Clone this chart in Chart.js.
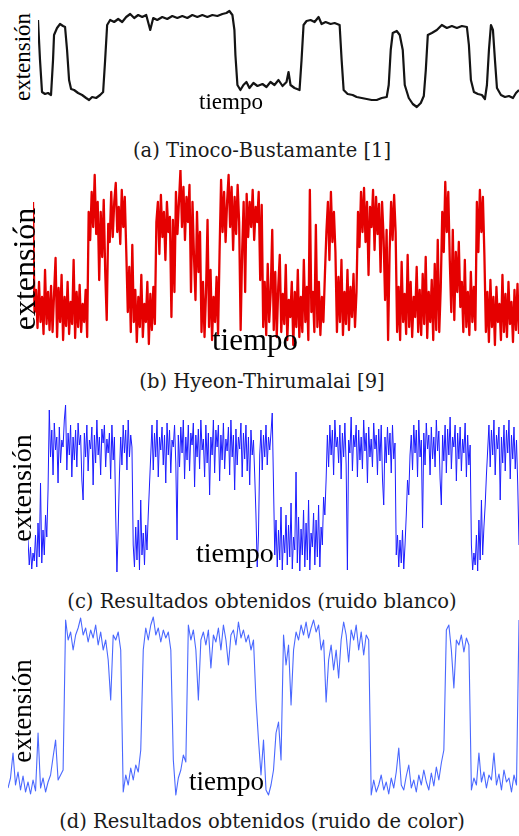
<!DOCTYPE html>
<html>
<head>
<meta charset="utf-8">
<script src="https://cdn.jsdelivr.net/npm/chart.js@4/dist/chart.umd.min.js"></script>
<style>
	html, body { margin: 0; padding: 0; background: #fff; }
	body { width: 519px; height: 836px; position: relative; overflow: hidden; }
	.panel { position: absolute; }
	.lbl { position: absolute; font-family: "Liberation Serif", "Times New Roman", serif; color: #000; line-height: 1; white-space: nowrap; }
	.ylbl { transform: translate(-50%, -50%) rotate(-90deg); }
	.cap { position: absolute; left: 0; width: 524px; text-align: center; font-family: "DejaVu Serif", serif; font-size: 19.5px; line-height: 1; color: #1a1a1a; white-space: nowrap; }
</style>
</head>
<body>
<div class="panel" style="left:38px;top:8px"><canvas id="chartA" width="481" height="102"></canvas></div>
<div class="panel" style="left:33px;top:170px"><canvas id="chartB" width="486" height="182"></canvas></div>
<div class="panel" style="left:28px;top:405px"><canvas id="chartC" width="491" height="170"></canvas></div>
<div class="panel" style="left:8px;top:615px"><canvas id="chartD" width="511" height="185"></canvas></div>

<div class="lbl ylbl" style="left:22px;top:57px;font-size:23px">extensión</div>
<div class="lbl" style="left:199px;top:90px;font-size:23px">tiempo</div>
<div class="cap" style="top:141px">(a) Tinoco-Bustamante [1]</div>

<div class="lbl ylbl" style="left:24px;top:269px;font-size:32px">extensión</div>
<div class="lbl" style="left:212px;top:324px;font-size:31px">tiempo</div>
<div class="cap" style="top:372px">(b) Hyeon-Thirumalai [9]</div>

<div class="lbl ylbl" style="left:22px;top:488px;font-size:28px">extensión</div>
<div class="lbl" style="left:196px;top:539px;font-size:28px">tiempo</div>
<div class="cap" style="top:592px">(c) Resultados obtenidos (ruido blanco)</div>

<div class="lbl ylbl" style="left:22px;top:711px;font-size:27px">extensión</div>
<div class="lbl" style="left:189px;top:768px;font-size:27px">tiempo</div>
<div class="cap" style="top:812px">(d) Resultados obtenidos (ruido de color)</div>

<script>
// (a) Tinoco-Bustamante: irregular time samples
const aTime = [0, 2, 4, 7, 10, 13, 15, 16, 19, 22, 25, 27, 29, 31, 33, 36, 40, 44, 48, 51, 54, 58, 62, 65, 67, 69,
	72, 76, 80, 84, 88, 92, 96, 100, 104, 108, 112, 115, 119, 124, 129, 134, 139, 144, 149, 154, 159, 164, 169, 174,
	179, 184, 188, 191, 194, 196, 197, 199, 202, 205, 208, 211, 215, 219, 224, 228, 232, 236, 240, 244, 248, 250, 252,
	256, 261, 263, 265, 268, 272, 276, 280, 283, 287, 292, 296, 301, 303, 305, 309, 314, 318, 323, 328, 333, 338, 343,
	348, 350, 352, 354, 358, 361, 364, 366, 370, 374, 378, 382, 385, 387, 389, 393, 398, 403, 408, 413, 418, 423, 428,
	430, 432, 435, 439, 443, 446, 448, 450, 452, 454, 456, 458, 462, 466, 470, 474, 477, 480];
const aExt = [86, 46, 14, 12, 13, 11, 46, 71, 78, 82, 80, 79, 56, 26, 17, 16, 13, 11, 8, 6, 9, 8, 11, 14, 46, 81,
	86, 84, 87, 84, 89, 92, 88, 91, 89, 91, 76, 88, 86, 89, 87, 90, 88, 90, 88, 91, 89, 91, 89, 91,
	90, 92, 93, 95, 91, 76, 51, 21, 16, 21, 24, 18, 23, 20, 22, 19, 24, 21, 26, 20, 24, 34, 21,
	18, 16, 46, 81, 85, 86, 84, 89, 82, 84, 82, 83, 81, 46, 16, 12, 11, 9, 8, 7, 6, 6, 8,
	9, 21, 56, 73, 75, 71, 56, 21, 8, 2, -1, 3, 10, 36, 71, 73, 76, 81, 78, 80, 78, 80, 79,
	61, 26, 14, 12, 11, 7, 21, 56, 81, 76, 46, 18, 11, 9, 10, 8, 13, 16];

// (b) Hyeon-Thirumalai: equally spaced samples
const bExt = [150, 40,
	62, 24, 70, 30, 55, 18, 82, 28, 60, 22, 66,
	20, 58, 94, 15, 64, 30, 77, 12, 55, 26, 70,
	18, 50, 28, 92, 14, 60, 25, 67, 20, 48, 30, 62, 15,
	140, 112, 160, 125, 177, 118, 150, 72,
	140, 95, 152, 80, 32, 128, 110,
	160, 115, 150, 169, 120, 145, 108, 162, 125, 155,
	100, 40, 85, 20, 107, 30,
	62, 10, 55, 25, 77, 15, 48, 30, 70, 8, 58, 22, 65, 28,
	130, 150, 98, 157, 115, 140, 92, 150, 120, 135,
	35, 132, 60,
	160, 118, 150, 182, 125, 165, 112, 155, 130, 167,
	60, 150, 95, 52, 140, 80, 120,
	20, 70, 15, 60, 132, 25, 82, 12, 55, 30, 75, 18,
	100, 172, 120,
	160, 110, 150, 177, 125, 165, 102, 155, 118, 167, 130,
	22, 100, 150, 60,
	158, 115, 150, 125, 162, 112, 145, 130, 160,
	72, 147,
	25, 70, 17, 88, 30, 60, 122, 22, 80,
	15, 65, 97, 20, 58, 28, 87, 12, 52, 35,
	70, 7, 60, 25, 82, 15,
	55, 20, 92, 30, 65, 12, 162, 40,
	60, 20, 127, 25, 70, 17, 55, 30, 77,
	120, 150, 92, 160, 110, 140, 100,
	20, 75, 30, 92, 17, 60, 28, 82, 22, 65, 35, 78, 25, 60,
	140, 105, 160, 120, 164, 110, 150, 77, 145, 125, 162, 102, 155, 118, 148, 80, 150, 115,
	52, 122, 12, 100,
	150, 112, 157, 120,
	20, 65, 12, 90, 30, 58, 18, 97, 25, 70, 15, 55, 35, 85, 20, 62, 17, 78, 28, 95, 14, 60, 30, 72, 12, 88, 22, 112, 20, 65,
	140, 100, 170, 120, 160, 92,
	40, 122, 32, 100, 60, 110, 45,
	70, 20, 92, 25, 60, 17, 80, 30, 65, 22,
	150, 100, 162, 120, 155, 97,
	20, 60, 10, 72, 25, 55, 7, 65, 30, 48, 12, 77, 20, 58, 15, 70, 28, 50, 10, 62, 22, 68, 18];

// (c) white noise result
const cExt = [35, 10, 28, 6, 22, 14,
	40, 8, 52, 18, 92, 12, 45, 20,
	60, 38, 85, 165,
	118, 145, 100, 152, 125, 138, 92, 148, 112, 135, 128, 155, 170, 105, 142, 120, 150, 98, 138, 115, 145, 108,
	152, 130, 140, 95, 75, 142, 118, 150, 104, 135, 126, 148, 90, 140, 112, 155, 120, 138, 100, 146, 132, 150,
	108, 136, 122, 142, 96, 150, 115, 138,
	60, 3,
	45, 100, 138, 110, 150, 122, 145, 105, 155, 118, 140, 128,
	30, 8, 48, 15, 55, 5, 75, 20, 42, 10, 50, 25,
	60, 90, 120,
	150, 105, 142, 118, 155, 98, 138, 125, 148, 110, 140, 92, 152, 120, 145, 102, 135, 128, 150, 112, 35, 140,
	108, 148, 122, 155, 96, 138, 115, 150, 104, 142, 130, 152, 88, 140, 118, 146, 106, 155, 125, 136, 98, 150,
	112, 142, 80, 138, 120, 155, 102, 145, 128, 150, 94, 140, 115, 152, 106, 136, 124, 148, 100, 155, 118, 140,
	85, 146, 110, 138, 126, 152, 98, 142, 116, 150, 104, 138, 90, 145, 120, 135, 100,
	60, 8, 40,
	120, 145, 105, 140, 118, 150, 110, 138, 125, 142, 162,
	90, 20, 55, 8, 45, 15, 68, 5, 40, 22, 60, 10, 50, 18, 72, 6, 38, 25, 103, 12, 58, 4, 46, 20, 65, 8, 52, 15,
	75, 5, 42, 28, 62, 10, 55, 18, 70, 8, 48, 30,
	78, 60, 95,
	140, 108, 150, 120, 145, 100, 155, 128, 138, 112, 150, 96, 142, 118, 152, 110, 5, 135, 122, 158, 104, 140,
	128, 150, 98, 145, 115, 138, 106, 155, 124, 142, 92, 148, 118, 136, 108, 152, 126, 140, 100, 146, 114, 150,
	96, 70, 138, 112, 148, 120, 142, 102, 150, 116, 132,
	20, 40, 8, 35, 12, 45, 6, 30,
	60, 95, 80, 120,
	140, 105, 150, 122, 145, 98, 155, 118, 135, 47, 142, 110, 152, 126, 140, 100, 148, 116, 138, 108, 155, 124,
	144, 96, 70, 140, 114, 150, 102, 146, 120, 158, 106, 138, 128, 150, 94, 142, 116, 148, 104, 136, 122, 152,
	98, 140, 110, 130,
	30, 5, 22, 10, 40, 4, 55, 15, 75, 20, 48,
	70, 100, 125,
	150, 108, 145, 120, 155, 100, 140, 126, 148, 75, 138, 112, 150, 104, 145, 122, 155, 96, 140, 116, 148, 106,
	135, 90, 30];

// (d) coloured noise result
const dExt = [12, 22, 47, 15, 28, 10, 24, 8, 18, 6, 20, 9, 67, 12, 22, 8, 18, 25, 43, 60, 20, 25, 30, 180,
	160, 168, 150, 165, 172, 182, 165, 172, 158, 170, 162, 175, 155, 168, 150, 160, 140, 100, 165, 160, 168, 150,
	8, 25, 15, 32, 20, 35, 28, 50, 150,
	172, 160, 175, 183, 165, 172, 158, 170, 162, 168, 150, 40, 5, 22, 30, 45, 38, 175,
	160, 170, 150, 100, 160, 168, 155, 170, 132, 165, 158, 172, 150, 175, 160, 135, 165, 170, 155, 178, 162, 170,
	158, 165, 150, 160, 100, 60, 25, 60, 10, 5, 15, 30, 67, 78, 40, 165,
	135, 155, 95, 150, 168, 160, 175, 165, 178, 162, 172, 180, 168, 175, 150, 160, 98, 140, 155, 130, 150, 122,
	160, 178, 165, 138, 170, 160, 175, 150, 168, 145, 165, 160, 5,
	20, 8, 15, 25, 10, 18, 6, 22, 12, 28, 52, 15, 10, 24, 35, 12, 20, 8, 25, 15, 30, 18, 10, 27, 14, 33, 20, 37, 50, 170,
	175, 150, 112, 160, 155, 165, 148, 162, 155, 10, 22, 15, 47, 18, 28, 12, 25, 20, 47, 15, 26, 10, 30, 18, 22, 8,
	25, 15, 180];

function toPoints(xs, ys) {
	return ys.map((y, i) => ({ x: xs ? xs[i] : i, y }));
}

function makePanel(id, xs, ys, color, width, xMax, yMin, yMax) {
	return new Chart(document.getElementById(id), {
		type: "line",
		data: {
			datasets: [
				{
					data: toPoints(xs, ys),
					borderColor: color,
					borderWidth: width,
					borderJoinStyle: "round",
					pointRadius: 0,
					tension: 0,
					fill: false,
				},
			],
		},
		options: {
			responsive: false,
			animation: false,
			events: [],
			layout: { padding: 0 },
			plugins: { legend: { display: false }, tooltip: { enabled: false } },
			scales: {
				x: { type: "linear", display: false, min: 0, max: xMax },
				y: { display: false, min: yMin, max: yMax },
			},
		},
	});
}

makePanel("chartA", aTime, aExt, "#141414", 2.2, 480, -4, 98);
makePanel("chartB", null, bExt, "#e50000", 2.3, bExt.length - 1, 0, 182);
makePanel("chartC", null, cExt, "#1c1cff", 1, cExt.length - 1, 0, 170);
makePanel("chartD", null, dExt, "#4a68ff", 1.1, dExt.length - 1, 0, 185);
</script>
</body>
</html>
